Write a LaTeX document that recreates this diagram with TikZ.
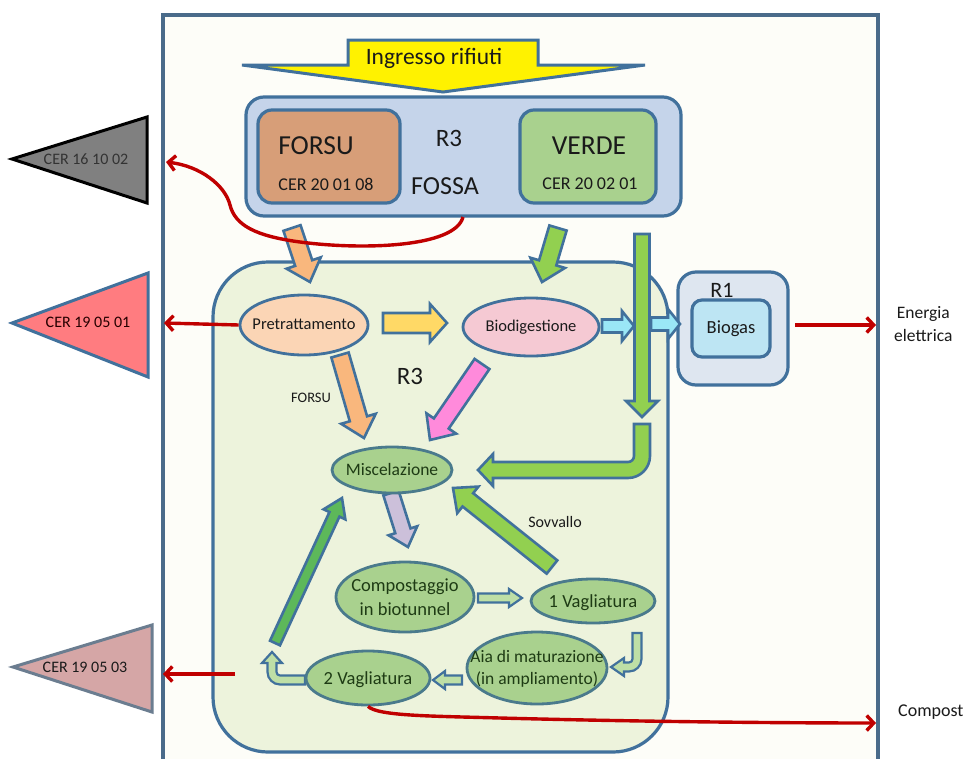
\documentclass[tikz,border=0pt]{standalone}
\usepackage{fontspec}
\setmainfont{Carlito}
\usetikzlibrary{calc,shapes.geometric,arrows.meta}
\newcommand\fsz[1]{\fontsize{#1}{\dimexpr #1pt*13/10\relax}\selectfont}
\newcommand\et[1]{\makebox[0pt]{\raisebox{-0.3em}[0pt][0pt]{\begin{tabular}{@{}c@{}}#1\end{tabular}}}}
\definecolor{sb}{HTML}{41719C}
\definecolor{framec}{HTML}{4A6B8A}
\definecolor{rd}{HTML}{C00000}
\definecolor{fossa}{HTML}{C5D4EA}
\definecolor{forsu}{HTML}{D79E78}
\definecolor{verde}{HTML}{A9D18E}
\definecolor{innerc}{HTML}{EDF3DC}
\definecolor{peach}{HTML}{FBD5B5}
\definecolor{pinkell}{HTML}{F5C9D3}
\definecolor{gell}{HTML}{A9D18E}
\definecolor{gellline}{HTML}{4A7A8C}
\definecolor{garrow}{HTML}{92D050}
\definecolor{garrowb}{HTML}{5DB85A}
\definecolor{orarrow}{HTML}{F9B77D}
\definecolor{yelarrow}{HTML}{FFD966}
\definecolor{pinkarrow}{HTML}{FF8ADB}
\definecolor{lavarrow}{HTML}{CCC0DA}
\definecolor{cyanarrow}{HTML}{9AE7F6}
\definecolor{rone}{HTML}{DEE6F0}
\definecolor{biogasc}{HTML}{BDE5F3}
\definecolor{ltgarrow}{HTML}{BEDFA6}
\definecolor{trigray}{HTML}{808080}
\definecolor{trired}{HTML}{FF7C80}
\definecolor{tripink}{HTML}{D5A6A6}
\definecolor{tripinkline}{HTML}{6B7D90}
\definecolor{framefill}{HTML}{FDFDF8}
\definecolor{gtext}{HTML}{1E3B14}
\definecolor{txtc}{HTML}{1A1A1A}
% #1 fill, #2 start, #3 end, #4 half shaft, #5 half head, #6 head length, #7 extra style
\newcommand\blockarrow[7]{%
  \coordinate (bah) at ($#3!#6pt!#2$);
  \path[blk,fill=#1,#7] ($#2!#4pt!90:#3$) -- ($(bah)!#4pt!90:#3$) -- ($(bah)!#5pt!90:#3$) -- #3
     -- ($(bah)!#5pt!-90:#3$) -- ($(bah)!#4pt!-90:#3$) -- ($#2!#4pt!-90:#3$) -- cycle;}
\begin{document}
\begin{tikzpicture}[x=1pt,y=-1pt,
  blk/.style={draw=sb, line width=2.6pt, line join=miter},
  rbox/.style={draw=sb, line width=3.2pt, rounded corners=#1},
  ell/.style={ellipse, draw=sb, line width=2.8pt, inner sep=0pt, text=txtc},
  gel/.style={ell, draw=gellline, fill=gell, text=gtext},
  redln/.style={draw=rd, line width=3.4pt, -{Straight Barb[length=7pt,width=15pt]}},
  txt/.style={inner sep=0pt, text=txtc, align=center}]
\useasboundingbox (0,0) rectangle (966,758);
\fill[white] (0,0) rectangle (966,758);

% outer frame
\draw[draw=framec, fill=framefill, line width=3.4pt] (163,15) rectangle (878,790);

% Ingresso rifiuti arrow
\path[blk, fill=yellow, line width=3pt] (348,40) -- (538,40) -- (538,65) -- (645,65) -- (443,92) -- (242,65) -- (348,65) -- cycle;
\node[txt, font=\fsz{23.5}] (ingresso) at (434,58) {Ingresso rifiuti};

% fossa
\path[rbox=18, fill=fossa] (246,97) rectangle (681,216);
\path[rbox=14, fill=forsu] (258,110) rectangle (400,203);
\path[rbox=14, fill=verde] (520,110) rectangle (656,203);
\node[txt, font=\fsz{27.5}] (forsu) at (316,146) {FORSU};
\node[txt, font=\fsz{18}] (forsucer) at (326,184) {CER 20 01 08};
\node[txt, font=\fsz{27.5}] (verde) at (589,146) {VERDE};
\node[txt, font=\fsz{18}] (verdecer) at (590,184) {CER 20 02 01};
\node[txt, font=\fsz{25}] (rfossa) at (449,138) {R3};
\node[txt, font=\fsz{26}] (fossalbl) at (445,186) {FOSSA};
\coordinate (fossabot) at (463,217);

% inner R3 region
\path[rbox=55, fill=innerc] (213,262) rectangle (668,752);

% R1 box
\path[rbox=18, fill=rone] (678,272) rectangle (788,385);
\path[rbox=10, fill=biogasc] (692,300) rectangle (770,357);
\node[txt, font=\fsz{22}] (rone) at (722,290) {R1};
\node[txt, font=\fsz{18.5}] (biogas) at (731,329) {Biogas};
\coordinate (biogasout) at (795,325);

% triangles
\draw[fill=trigray, draw=black, line width=3pt, line join=miter] (12,159) -- (147,117) -- (147,203) -- cycle;
\node[txt, font=\fsz{16}, text=black!80] (cer1) at (86,159) {CER 16 10 02};
\coordinate (tri1) at (166,162);
\draw[fill=trired, draw=sb, line width=3pt, line join=miter] (12,323) -- (148,273) -- (148,377) -- cycle;
\node[txt, font=\fsz{16}, text=black!85!red] (cer2) at (88,322) {CER 19 05 01};
\coordinate (tri2) at (164,323);
\draw[fill=tripink, draw=tripinkline, line width=3pt, line join=miter] (13,667) -- (152,625) -- (152,712) -- cycle;
\node[txt, font=\fsz{16}] (cer3) at (85,667) {CER 19 05 03};
\coordinate (tri3) at (163,674);

% block arrows
\blockarrow{orarrow}{(292,228)}{(310,282)}{9}{18}{20}{}
\blockarrow{garrow}{(558,228)}{(542,282)}{9}{18}{20}{}
\blockarrow{garrow}{(642,234)}{(642,417)}{7.5}{16}{16}{}
\blockarrow{yelarrow}{(383,323)}{(447,323)}{10}{19}{17}{}
\blockarrow{cyanarrow}{(602,326)}{(634,326)}{6.5}{15}{12}{}
\blockarrow{cyanarrow}{(651,324)}{(680,324)}{6.5}{15}{12}{}
\blockarrow{orarrow}{(340,355)}{(364,438)}{9}{18}{20}{}
\blockarrow{pinkarrow}{(482,364)}{(430,440)}{9}{18}{20}{}
\blockarrow{lavarrow}{(391,493)}{(408,547)}{8}{15}{17}{}
\blockarrow{garrow}{(552,567)}{(453,488)}{8.5}{17}{19}{}
\blockarrow{garrowb}{(275,643)}{(342,498)}{5.5}{12}{18}{}
\blockarrow{ltgarrow}{(478,598)}{(522,598)}{4.5}{9}{13}{line width=2.2pt}
\blockarrow{ltgarrow}{(462,680)}{(433,680)}{4.5}{9}{12}{line width=2.2pt}

% bent arrows
\path[blk, fill=garrow] (634,424) -- (634,456) .. controls (634,459.3) and (631.3,462) .. (628,462)
  -- (493,462) -- (493,454) -- (478,470) -- (493,486) -- (493,478) -- (628,478)
  .. controls (640.1,478) and (650,468.1) .. (650,456) -- (650,424) -- cycle;
\path[blk, fill=ltgarrow, line width=2.2pt] (632.5,633) -- (632.5,659) .. controls (632.5,661) and (631,662.5) .. (629,662.5)
  -- (624,662.5) -- (624,658) -- (611,667) -- (624,676) -- (624,671.5) -- (629,671.5)
  .. controls (635.9,671.5) and (641.5,665.9) .. (641.5,659) -- (641.5,633) -- cycle;
\path[blk, fill=ltgarrow, line width=2.2pt] (305,675.5) -- (280,675.5) .. controls (278,675.5) and (276.5,674) .. (276.5,672)
  -- (276.5,663) -- (282,663) -- (272,652) -- (262,663) -- (267.5,663) -- (267.5,672)
  .. controls (267.5,678.9) and (273.1,684.5) .. (280,684.5) -- (305,684.5) -- cycle;

% ellipses
\node[ell, fill=peach, minimum width=128pt, minimum height=60pt, font=\fsz{16.5}] (pre) at (304,325) {\et{Pretrattamento}};
\node[ell, fill=pinkell, minimum width=136pt, minimum height=58pt, font=\fsz{16.5}] (bio) at (531,327) {\et{Biodigestione}};
\node[gel, minimum width=120pt, minimum height=46pt, font=\fsz{17.5}] (misc) at (392,470) {\et{Miscelazione}};
\node[gel, minimum width=138pt, minimum height=70pt, font=\fsz{18.5}] (comp) at (405,597) {\et{Compostaggio\\in biotunnel}};
\node[gel, minimum width=124pt, minimum height=44pt, font=\fsz{18.5}] (vag1) at (593,601) {\et{1 Vagliatura}};
\node[gel, minimum width=140pt, minimum height=72pt, font=\fsz{17.5}] (aia) at (537,668) {\et{Aia di maturazione\\(in ampliamento)}};
\node[gel, minimum width=124pt, minimum height=54pt, font=\fsz{18.5}] (vag2) at (368,678) {\et{2 Vagliatura}};

% labels
\node[txt, font=\fsz{25}] (rthree) at (410,376) {R3};
\node[txt, font=\fsz{14.5}] (forsulbl) at (311,398) {FORSU};
\node[txt, font=\fsz{16}] (sovvallo) at (555,522) {Sovvallo};
\node[txt, font=\fsz{17.5}, anchor=west] (energia) at (894,324) {Energia\\elettrica};
\node[txt, font=\fsz{18}, anchor=west] (compost) at (898,712) {Compost};
\coordinate (energiain) at (876,325);
\coordinate (compostin) at (876,723);

% red connectors
\draw[redln] (fossabot) .. controls (455,248) and (360,250) .. (300,242)
   .. controls (255,236) and (235,225) .. (230,205) .. controls (225,185) and (200,166) .. (tri1);
\draw[redln] (pre.west) -- (tri2);
\draw[redln] (biogasout) -- (energiain);
\draw[redln] (235,674) -- (tri3);
\draw[redln] (vag2.south) .. controls (378,716) and (430,716) .. (500,718) .. controls (650,722) and (800,723) .. (compostin);
\end{tikzpicture}
\end{document}
